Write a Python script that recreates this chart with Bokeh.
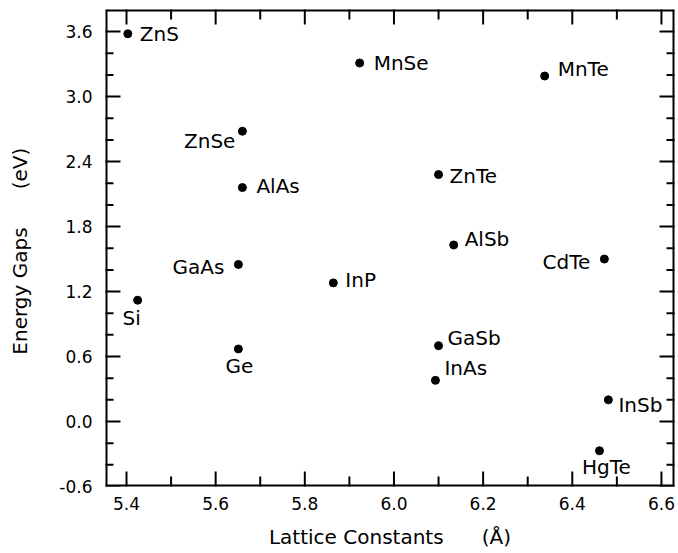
from bokeh.plotting import figure
from bokeh.models import (ColumnDataSource, LinearAxis, FixedTicker,
                          PrintfTickFormatter, Range1d, LabelSet)
from bokeh.core.properties import value
from bokeh.embed import file_html
from bokeh.resources import INLINE

# ---- data ----
compounds = ["ZnS", "MnSe", "MnTe", "ZnSe", "AlAs", "ZnTe", "AlSb", "GaAs",
             "InP", "CdTe", "Si", "Ge", "GaSb", "InAs", "InSb", "HgTe"]
lattice_constants = [5.403, 5.923, 6.338, 5.660, 5.660, 6.100, 6.134, 5.651,
                     5.864, 6.472, 5.425, 5.651, 6.100, 6.093, 6.481, 6.461]
energy_gaps = [3.58, 3.31, 3.19, 2.68, 2.16, 2.28, 1.63, 1.45,
               1.28, 1.50, 1.12, 0.67, 0.70, 0.38, 0.20, -0.27]

# tick values (labelled) and minor tick values
x_major = [5.4, 5.6, 5.8, 6.0, 6.2, 6.4, 6.6]
x_minor = [5.5, 5.7, 5.9, 6.1, 6.3, 6.5]
y_major = [-0.6, 0.0, 0.6, 1.2, 1.8, 2.4, 3.0, 3.6]
y_minor = [-0.4, -0.2, 0.2, 0.4, 0.8, 1.0, 1.4, 1.6, 2.0, 2.2,
           2.6, 2.8, 3.2, 3.4]

# label placement (screen pixel offsets from each dot: right, down; alignment)
label_style = {
    "ZnS": (12, 0, "left"), "MnSe": (14, 0, "left"), "MnTe": (13, -7, "left"),
    "ZnSe": (-7, 10, "right"), "AlAs": (14, -2, "left"), "ZnTe": (11, 1, "left"),
    "AlSb": (11, -6, "left"), "GaAs": (-14, 3, "right"), "InP": (12, -3, "left"),
    "CdTe": (-14, 3, "right"), "Si": (-6, 18, "center"), "Ge": (1, 17, "center"),
    "GaSb": (9, -8, "left"), "InAs": (9, -12, "left"), "InSb": (10, 5, "left"),
    "HgTe": (7, 16, "center"),
}

FONT = "DejaVu Sans"
NB = "\u00a0"
X0, X1 = 5.3529, 6.6293
Y0, Y1 = -0.6, 3.804

src = ColumnDataSource(dict(
    x=lattice_constants, y=energy_gaps, name=compounds,
    dx=[label_style[c][0] for c in compounds],
    dy=[-label_style[c][1] for c in compounds],
    align=[label_style[c][2] for c in compounds],
))

p = figure(frame_width=569, frame_height=477,
           min_border_left=105, min_border_bottom=60, min_border_top=9,
           min_border_right=1,
           x_range=Range1d(X0, X1), y_range=Range1d(Y0, Y1),
           output_backend="svg", toolbar_location=None,
           x_axis_type=None, y_axis_type=None)
p.outline_line_color = None

# axes: tick labels and titles
xb = LinearAxis(ticker=FixedTicker(ticks=x_major),
                formatter=PrintfTickFormatter(format="%.1f"),
                axis_label="Lattice Constants" + NB * 6 + "(Å)")
yl = LinearAxis(ticker=FixedTicker(ticks=y_major),
                formatter=PrintfTickFormatter(format="%.1f"),
                axis_label="Energy Gaps" + NB * 6 + "(eV)" + NB)
for ax in (xb, yl):
    ax.axis_line_color = None
    ax.major_tick_line_color = None
    ax.minor_tick_line_color = None
    ax.major_tick_in = 0
    ax.major_tick_out = 0
    ax.minor_tick_out = 0
    ax.major_label_text_font = FONT
    ax.major_label_text_font_size = "17px"
    ax.major_label_text_color = "black"
    ax.axis_label_text_font = FONT
    ax.axis_label_text_font_size = "20px"
    ax.axis_label_text_font_style = "normal"
    ax.axis_label_text_color = "black"
xb.major_label_standoff = 10
xb.axis_label_standoff = 12
yl.major_label_standoff = 13
yl.axis_label_standoff = 24
p.add_layout(xb, "below")
p.add_layout(yl, "left")

# frame box and inward ticks, as filled bars (clipped to the frame)
K = dict(color="black", line_color=None)
p.rect(x=[X0, X1], y=[(Y0 + Y1) / 2] * 2, width=4, width_units="screen",
       height=Y1 - Y0, **K)
p.rect(x=[(X0 + X1) / 2] * 2, y=[Y0, Y1], width=X1 - X0, height=4,
       height_units="screen", **K)
p.rect(x=x_major * 2, y=[Y0] * len(x_major) + [Y1] * len(x_major),
       width=2, width_units="screen", height=30, height_units="screen", **K)
p.rect(x=x_minor * 2, y=[Y0] * len(x_minor) + [Y1] * len(x_minor),
       width=2, width_units="screen", height=20, height_units="screen", **K)
p.rect(x=[X0] * len(y_major) + [X1] * len(y_major), y=y_major * 2,
       width=30, width_units="screen", height=2, height_units="screen", **K)
p.rect(x=[X0] * len(y_minor) + [X1] * len(y_minor), y=y_minor * 2,
       width=16, width_units="screen", height=2, height_units="screen", **K)

p.scatter("x", "y", source=src, size=8, color="black", marker="circle")

labels = LabelSet(x="x", y="y", text="name", source=src,
                  x_offset="dx", y_offset="dy",
                  text_align="align", text_baseline="middle",
                  text_font=value(FONT), text_font_size="20px",
                  text_color="black")
p.add_layout(labels)

open("out.html", "w").write(file_html(p, INLINE))
